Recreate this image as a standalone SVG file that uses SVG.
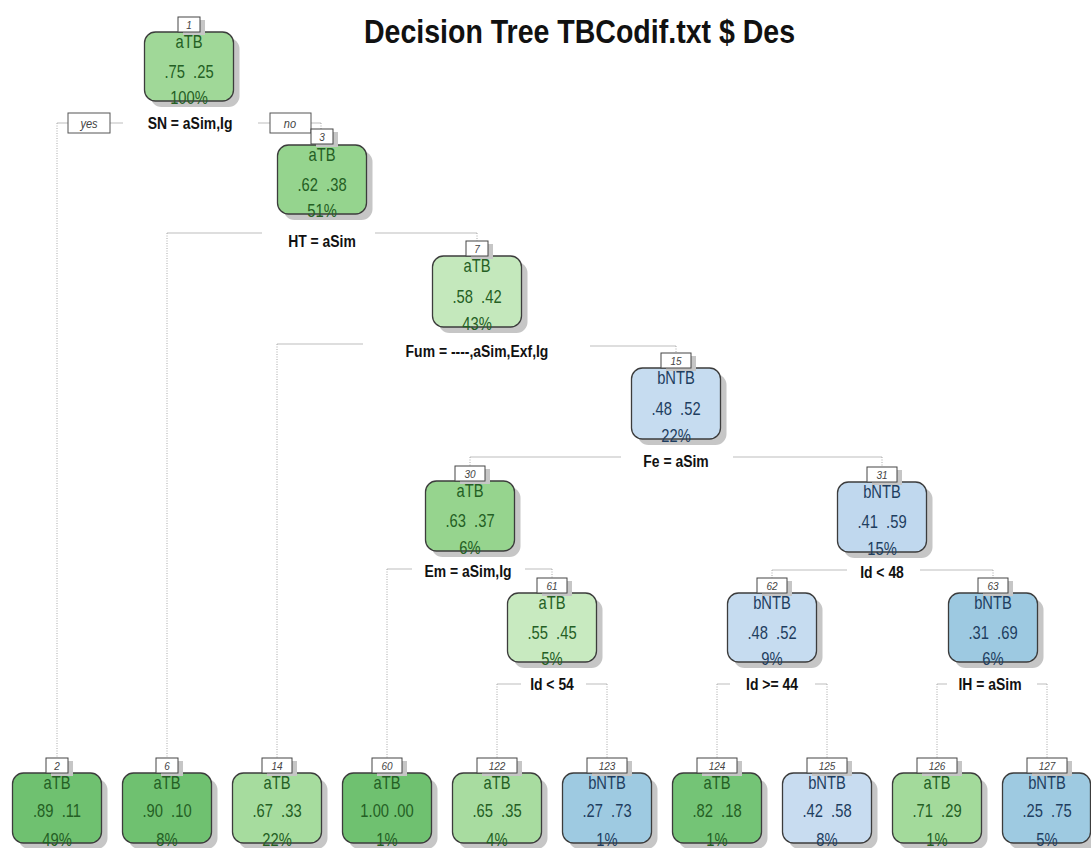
<svg xmlns="http://www.w3.org/2000/svg" width="1091" height="848" viewBox="0 0 1091 848">
<style>
.f{font-family:'Liberation Sans',Arial,sans-serif}
.box{stroke:#3c3c3c;stroke-width:1.3}
.sh{fill:#c6c6c6}
.nb{fill:#fff;stroke:#444;stroke-width:1}
.nt{font-size:10px;font-style:italic;fill:#444;text-anchor:middle}
.t{font-size:18px;text-anchor:middle;white-space:pre}
.g{fill:#245f24}
.b{fill:#1e3e60}
.lbl{font-weight:bold;font-size:17px;fill:#111;text-anchor:middle}
.h{stroke:#bdbdbd;stroke-width:1.2;fill:none}
.v{stroke:#a8a8a8;stroke-width:1;stroke-dasharray:1 1.5;fill:none}
.eb{fill:#fff;stroke:#555;stroke-width:1}
.et{font-size:13px;font-style:italic;fill:#444;text-anchor:middle}
.ttl{font-weight:bold;font-size:34px;fill:#111}
</style>
<rect width="1091" height="848" fill="#fff"/>
<text class="f ttl" x="364" y="43" textLength="431" lengthAdjust="spacingAndGlyphs">Decision Tree TBCodif.txt $ Des</text>

<g id="connectors">
  <path class="h" d="M57,123H68 M110,123H123 M258,123H270 M311,123H321"/>
  <path class="v" d="M57,123V758 M321,123V129"/>
  <rect class="eb" x="68" y="113" width="42" height="20"/>
  <text class="f et" transform="translate(89 128) scale(.85 1)">yes</text>
  <rect class="eb" x="270" y="113" width="41" height="20"/>
  <text class="f et" transform="translate(290 128) scale(.85 1)">no</text>
  <path class="h" d="M167,233H262 M375,233H477"/>
  <path class="v" d="M167,233V758 M477,233V241"/>
  <path class="h" d="M277,344H363 M590,346H676"/>
  <path class="v" d="M277,344V758 M676,346V353"/>
  <path class="h" d="M470,457H621 M733,457H882"/>
  <path class="v" d="M470,457V466 M882,457V467"/>
  <path class="h" d="M387,569H412 M525,569H552"/>
  <path class="v" d="M387,569V758 M552,569V578"/>
  <path class="h" d="M497,684H521 M586,684H607"/>
  <path class="v" d="M497,684V758 M607,684V758"/>
  <path class="h" d="M772,570H847 M920,570H993"/>
  <path class="v" d="M772,570V578 M993,570V578"/>
  <path class="h" d="M717,684H730 M815,684H827"/>
  <path class="v" d="M717,684V758 M827,684V758"/>
  <path class="h" d="M937,684H947 M1037,684H1047"/>
  <path class="v" d="M937,684V758 M1047,684V758"/>
</g>

<g id="node-1">
  <rect class="sh" x="150.5" y="38" width="89" height="69" rx="11"/>
  <rect class="box" x="144.5" y="32" width="89" height="69" rx="11" fill="#a0d898"/>
  <rect class="sh" x="183" y="20" width="22" height="15"/>
  <rect class="nb" x="178" y="17" width="22" height="15"/>
  <text class="f nt" x="189" y="29">1</text>
  <text class="f t g" transform="translate(189 48) scale(.82 1)">aTB</text>
  <text class="f t g" transform="translate(189 78) scale(.82 1)">.75  .25</text>
  <text class="f t g" transform="translate(189 104) scale(.82 1)">100%</text>
  <text class="f lbl" transform="translate(190 129) scale(.82 1)">SN = aSim,Ig</text>
</g>

<g id="node-3">
  <rect class="sh" x="283.5" y="151" width="89" height="69" rx="11"/>
  <rect class="box" x="277.5" y="145" width="89" height="69" rx="11" fill="#95d48e"/>
  <rect class="sh" x="316" y="132" width="22" height="15"/>
  <rect class="nb" x="311" y="129" width="22" height="15"/>
  <text class="f nt" x="322" y="141">3</text>
  <text class="f t g" transform="translate(322 161) scale(.82 1)">aTB</text>
  <text class="f t g" transform="translate(322 191) scale(.82 1)">.62  .38</text>
  <text class="f t g" transform="translate(322 217) scale(.82 1)">51%</text>
  <text class="f lbl" transform="translate(322 247) scale(.82 1)">HT = aSim</text>
</g>

<g id="node-7">
  <rect class="sh" x="438.5" y="262" width="89" height="71" rx="11"/>
  <rect class="box" x="432.5" y="256" width="89" height="71" rx="11" fill="#c4e8bc"/>
  <rect class="sh" x="471" y="244" width="22" height="15"/>
  <rect class="nb" x="466" y="241" width="22" height="15"/>
  <text class="f nt" x="477" y="253">7</text>
  <text class="f t g" transform="translate(477 272) scale(.82 1)">aTB</text>
  <text class="f t g" transform="translate(477 303) scale(.82 1)">.58  .42</text>
  <text class="f t g" transform="translate(477 330) scale(.82 1)">43%</text>
  <text class="f lbl" transform="translate(477 357) scale(.82 1)">Fum = ----,aSim,Exf,Ig</text>
</g>

<g id="node-15">
  <rect class="sh" x="637.5" y="374" width="89" height="71" rx="11"/>
  <rect class="box" x="631.5" y="368" width="89" height="71" rx="11" fill="#c6dcf0"/>
  <rect class="sh" x="666" y="356" width="30" height="15"/>
  <rect class="nb" x="661" y="353" width="30" height="15"/>
  <text class="f nt" x="676" y="365">15</text>
  <text class="f t b" transform="translate(676 384) scale(.82 1)">bNTB</text>
  <text class="f t b" transform="translate(676 415) scale(.82 1)">.48  .52</text>
  <text class="f t b" transform="translate(676 442) scale(.82 1)">22%</text>
  <text class="f lbl" transform="translate(676 467) scale(.82 1)">Fe = aSim</text>
</g>

<g id="node-30">
  <rect class="sh" x="431.5" y="487" width="89" height="70" rx="11"/>
  <rect class="box" x="425.5" y="481" width="89" height="70" rx="11" fill="#96d48e"/>
  <rect class="sh" x="460" y="469" width="30" height="15"/>
  <rect class="nb" x="455" y="466" width="30" height="15"/>
  <text class="f nt" x="470" y="478">30</text>
  <text class="f t g" transform="translate(470 497) scale(.82 1)">aTB</text>
  <text class="f t g" transform="translate(470 527) scale(.82 1)">.63  .37</text>
  <text class="f t g" transform="translate(470 554) scale(.82 1)">6%</text>
  <text class="f lbl" transform="translate(468 577) scale(.82 1)">Em = aSim,Ig</text>
</g>

<g id="node-31">
  <rect class="sh" x="843.5" y="488" width="89" height="70" rx="11"/>
  <rect class="box" x="837.5" y="482" width="89" height="70" rx="11" fill="#c0d8ee"/>
  <rect class="sh" x="872" y="470" width="30" height="15"/>
  <rect class="nb" x="867" y="467" width="30" height="15"/>
  <text class="f nt" x="882" y="479">31</text>
  <text class="f t b" transform="translate(882 498) scale(.82 1)">bNTB</text>
  <text class="f t b" transform="translate(882 528) scale(.82 1)">.41  .59</text>
  <text class="f t b" transform="translate(882 555) scale(.82 1)">15%</text>
  <text class="f lbl" transform="translate(882 578) scale(.82 1)">Id &lt; 48</text>
</g>

<g id="node-61">
  <rect class="sh" x="513.5" y="599" width="89" height="69" rx="11"/>
  <rect class="box" x="507.5" y="593" width="89" height="69" rx="11" fill="#c8eac0"/>
  <rect class="sh" x="542" y="581" width="30" height="15"/>
  <rect class="nb" x="537" y="578" width="30" height="15"/>
  <text class="f nt" x="552" y="590">61</text>
  <text class="f t g" transform="translate(552 609) scale(.82 1)">aTB</text>
  <text class="f t g" transform="translate(552 639) scale(.82 1)">.55  .45</text>
  <text class="f t g" transform="translate(552 665) scale(.82 1)">5%</text>
  <text class="f lbl" transform="translate(552 690) scale(.82 1)">Id &lt; 54</text>
</g>

<g id="node-62">
  <rect class="sh" x="733.5" y="599" width="89" height="69" rx="11"/>
  <rect class="box" x="727.5" y="593" width="89" height="69" rx="11" fill="#c6dcf0"/>
  <rect class="sh" x="762" y="581" width="30" height="15"/>
  <rect class="nb" x="757" y="578" width="30" height="15"/>
  <text class="f nt" x="772" y="590">62</text>
  <text class="f t b" transform="translate(772 609) scale(.82 1)">bNTB</text>
  <text class="f t b" transform="translate(772 639) scale(.82 1)">.48  .52</text>
  <text class="f t b" transform="translate(772 665) scale(.82 1)">9%</text>
  <text class="f lbl" transform="translate(772 690) scale(.82 1)">Id &gt;= 44</text>
</g>

<g id="node-63">
  <rect class="sh" x="954.5" y="599" width="89" height="69" rx="11"/>
  <rect class="box" x="948.5" y="593" width="89" height="69" rx="11" fill="#9dc9e1"/>
  <rect class="sh" x="983" y="581" width="30" height="15"/>
  <rect class="nb" x="978" y="578" width="30" height="15"/>
  <text class="f nt" x="993" y="590">63</text>
  <text class="f t b" transform="translate(993 609) scale(.82 1)">bNTB</text>
  <text class="f t b" transform="translate(993 639) scale(.82 1)">.31  .69</text>
  <text class="f t b" transform="translate(993 665) scale(.82 1)">6%</text>
  <text class="f lbl" transform="translate(990 690) scale(.82 1)">IH = aSim</text>
</g>

<g id="node-2">
  <rect class="sh" x="18.5" y="779" width="89" height="70" rx="11"/>
  <rect class="box" x="12.5" y="773" width="89" height="70" rx="11" fill="#6fc170"/>
  <rect class="sh" x="51" y="761" width="22" height="15"/>
  <rect class="nb" x="46" y="758" width="22" height="15"/>
  <text class="f nt" x="57" y="770">2</text>
  <text class="f t g" transform="translate(57 789) scale(.82 1)">aTB</text>
  <text class="f t g" transform="translate(57 817) scale(.82 1)">.89  .11</text>
  <text class="f t g" transform="translate(57 846) scale(.82 1)">49%</text>
</g>

<g id="node-6">
  <rect class="sh" x="128.5" y="779" width="89" height="70" rx="11"/>
  <rect class="box" x="122.5" y="773" width="89" height="70" rx="11" fill="#6fc170"/>
  <rect class="sh" x="161" y="761" width="22" height="15"/>
  <rect class="nb" x="156" y="758" width="22" height="15"/>
  <text class="f nt" x="167" y="770">6</text>
  <text class="f t g" transform="translate(167 789) scale(.82 1)">aTB</text>
  <text class="f t g" transform="translate(167 817) scale(.82 1)">.90  .10</text>
  <text class="f t g" transform="translate(167 846) scale(.82 1)">8%</text>
</g>

<g id="node-14">
  <rect class="sh" x="238.5" y="779" width="89" height="70" rx="11"/>
  <rect class="box" x="232.5" y="773" width="89" height="70" rx="11" fill="#a6dc9e"/>
  <rect class="sh" x="267" y="761" width="30" height="15"/>
  <rect class="nb" x="262" y="758" width="30" height="15"/>
  <text class="f nt" x="277" y="770">14</text>
  <text class="f t g" transform="translate(277 789) scale(.82 1)">aTB</text>
  <text class="f t g" transform="translate(277 817) scale(.82 1)">.67  .33</text>
  <text class="f t g" transform="translate(277 846) scale(.82 1)">22%</text>
</g>

<g id="node-60">
  <rect class="sh" x="348.5" y="779" width="89" height="70" rx="11"/>
  <rect class="box" x="342.5" y="773" width="89" height="70" rx="11" fill="#6fc170"/>
  <rect class="sh" x="377" y="761" width="30" height="15"/>
  <rect class="nb" x="372" y="758" width="30" height="15"/>
  <text class="f nt" x="387" y="770">60</text>
  <text class="f t g" transform="translate(387 789) scale(.82 1)">aTB</text>
  <text class="f t g" transform="translate(387 817) scale(.82 1)">1.00 .00</text>
  <text class="f t g" transform="translate(387 846) scale(.82 1)">1%</text>
</g>

<g id="node-122">
  <rect class="sh" x="458.5" y="779" width="89" height="70" rx="11"/>
  <rect class="box" x="452.5" y="773" width="89" height="70" rx="11" fill="#a8dca0"/>
  <rect class="sh" x="482" y="761" width="40" height="15"/>
  <rect class="nb" x="477" y="758" width="40" height="15"/>
  <text class="f nt" x="497" y="770">122</text>
  <text class="f t g" transform="translate(497 789) scale(.82 1)">aTB</text>
  <text class="f t g" transform="translate(497 817) scale(.82 1)">.65  .35</text>
  <text class="f t g" transform="translate(497 846) scale(.82 1)">4%</text>
</g>

<g id="node-123">
  <rect class="sh" x="568.5" y="779" width="89" height="70" rx="11"/>
  <rect class="box" x="562.5" y="773" width="89" height="70" rx="11" fill="#9ecae1"/>
  <rect class="sh" x="592" y="761" width="40" height="15"/>
  <rect class="nb" x="587" y="758" width="40" height="15"/>
  <text class="f nt" x="607" y="770">123</text>
  <text class="f t b" transform="translate(607 789) scale(.82 1)">bNTB</text>
  <text class="f t b" transform="translate(607 817) scale(.82 1)">.27  .73</text>
  <text class="f t b" transform="translate(607 846) scale(.82 1)">1%</text>
</g>

<g id="node-124">
  <rect class="sh" x="678.5" y="779" width="89" height="70" rx="11"/>
  <rect class="box" x="672.5" y="773" width="89" height="70" rx="11" fill="#74c476"/>
  <rect class="sh" x="702" y="761" width="40" height="15"/>
  <rect class="nb" x="697" y="758" width="40" height="15"/>
  <text class="f nt" x="717" y="770">124</text>
  <text class="f t g" transform="translate(717 789) scale(.82 1)">aTB</text>
  <text class="f t g" transform="translate(717 817) scale(.82 1)">.82  .18</text>
  <text class="f t g" transform="translate(717 846) scale(.82 1)">1%</text>
</g>

<g id="node-125">
  <rect class="sh" x="788.5" y="779" width="89" height="70" rx="11"/>
  <rect class="box" x="782.5" y="773" width="89" height="70" rx="11" fill="#c8dcf0"/>
  <rect class="sh" x="812" y="761" width="40" height="15"/>
  <rect class="nb" x="807" y="758" width="40" height="15"/>
  <text class="f nt" x="827" y="770">125</text>
  <text class="f t b" transform="translate(827 789) scale(.82 1)">bNTB</text>
  <text class="f t b" transform="translate(827 817) scale(.82 1)">.42  .58</text>
  <text class="f t b" transform="translate(827 846) scale(.82 1)">8%</text>
</g>

<g id="node-126">
  <rect class="sh" x="898.5" y="779" width="89" height="70" rx="11"/>
  <rect class="box" x="892.5" y="773" width="89" height="70" rx="11" fill="#a3da9b"/>
  <rect class="sh" x="922" y="761" width="40" height="15"/>
  <rect class="nb" x="917" y="758" width="40" height="15"/>
  <text class="f nt" x="937" y="770">126</text>
  <text class="f t g" transform="translate(937 789) scale(.82 1)">aTB</text>
  <text class="f t g" transform="translate(937 817) scale(.82 1)">.71  .29</text>
  <text class="f t g" transform="translate(937 846) scale(.82 1)">1%</text>
</g>

<g id="node-127">
  <rect class="sh" x="1008.5" y="779" width="89" height="70" rx="11"/>
  <rect class="box" x="1002.5" y="773" width="88" height="70" rx="11" fill="#9ecae1"/>
  <rect class="sh" x="1032" y="761" width="40" height="15"/>
  <rect class="nb" x="1027" y="758" width="40" height="15"/>
  <text class="f nt" x="1047" y="770">127</text>
  <text class="f t b" transform="translate(1047 789) scale(.82 1)">bNTB</text>
  <text class="f t b" transform="translate(1047 817) scale(.82 1)">.25  .75</text>
  <text class="f t b" transform="translate(1047 846) scale(.82 1)">5%</text>
</g>
</svg>
